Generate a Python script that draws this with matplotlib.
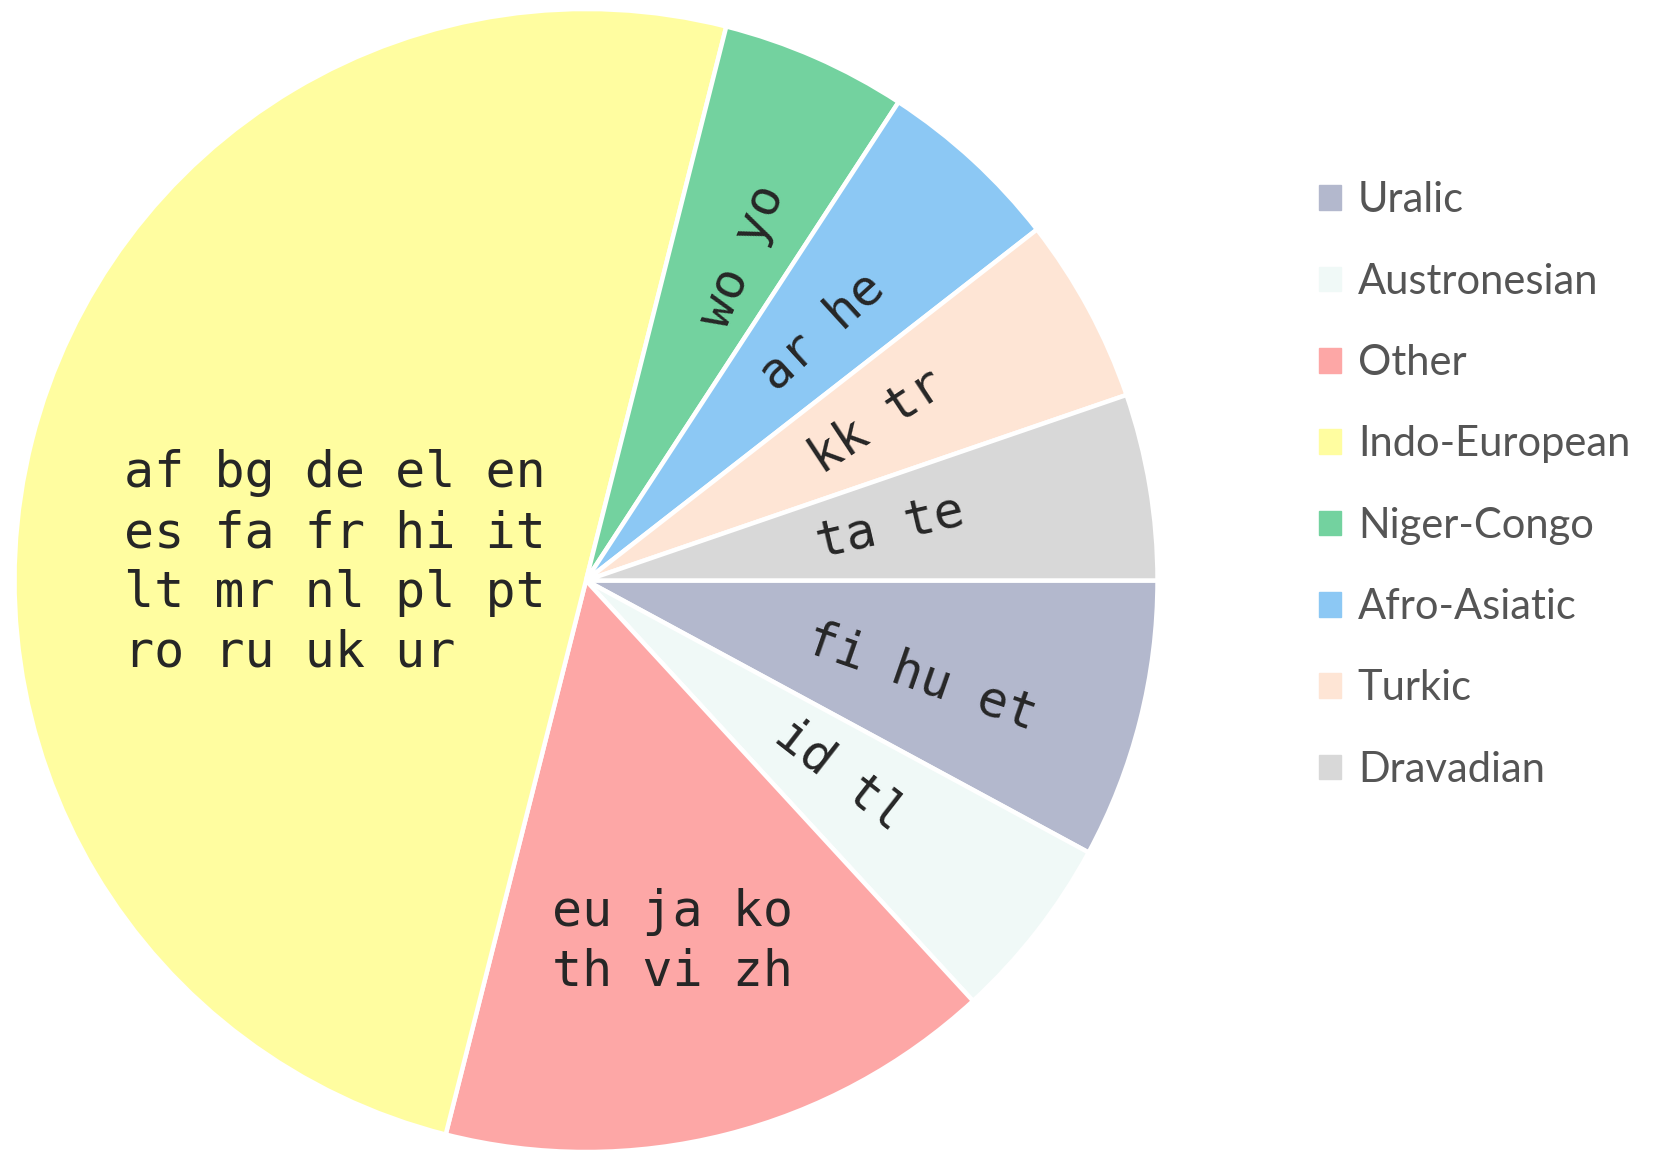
import matplotlib
matplotlib.use("Agg")
import matplotlib.pyplot as plt
import numpy as np

# ---- data ----
families = ["Uralic", "Austronesian", "Other", "Indo-European",
            "Niger-Congo", "Afro-Asiatic", "Turkic", "Dravadian"]
languages = [
    ["fi", "hu", "et"],
    ["id", "tl"],
    ["eu", "ja", "ko", "th", "vi", "zh"],
    ["af", "bg", "de", "el", "en", "es", "fa", "fr", "hi", "it",
     "lt", "mr", "nl", "pl", "pt", "ro", "ru", "uk", "ur"],
    ["wo", "yo"],
    ["ar", "he"],
    ["kk", "tr"],
    ["ta", "te"],
]
counts = [len(l) for l in languages]

# ---- style ----
colors = ["#b3b8cd", "#f0f9f7", "#fda7a6", "#fffda0",
          "#73d29f", "#8cc8f4", "#fee5d5", "#d8d8d8"]
# per label: (angle offset deg, radius fraction, rotate?, rotation offset, words per line)
label_style = [
    (-1.8, 0.61, True, -5, 3),
    (0.6, 0.56, True, 0, 2),
    (-0.7, 0.65, False, 0, 3),
    (10.2, 0.44, False, 0, 5),
    (-2.0, 0.63, True, 0.7, 2),
    (-0.8, 0.60, True, -5, 2),
    (0.2, 0.58, True, 5, 2),
    (0.5, 0.54, True, 3.5, 2),
]

fig = plt.figure(figsize=(16.61, 11.59), dpi=100)
ax = fig.add_axes([14.5 / 1661, 7 / 1159, 1143 / 1661, 1143 / 1159])

wedges, _ = ax.pie(counts, colors=colors, startangle=0, counterclock=False,
                   radius=1.0,
                   wedgeprops=dict(edgecolor="white", linewidth=3.2))
ax.set_xlim(-1, 1)
ax.set_ylim(-1, 1)
ax.set_aspect("equal")
ax.axis("off")

for w, langs, (doff, rfrac, rotate, roff, per_line) in zip(wedges, languages, label_style):
    mid = (w.theta1 + w.theta2) / 2.0
    ang = mid + doff
    x = rfrac * np.cos(np.deg2rad(ang))
    y = rfrac * np.sin(np.deg2rad(ang))
    lines = [" ".join(langs[i:i + per_line]) for i in range(0, len(langs), per_line)]
    txt = "\n".join(lines)
    rot = (mid + roff) if rotate else 0
    ax.text(x, y, txt, ha="center", va="center", rotation=rot,
            rotation_mode="anchor", multialignment="left",
            family="DejaVu Sans Mono", fontsize=36, color="#262626",
            linespacing=1.31)

handles = [plt.Rectangle((0, 0), 1, 1, color=c) for c in colors]
leg = fig.legend(handles, families, loc="center left",
                 bbox_to_anchor=(1319 / 1661, 1 - 485 / 1159),
                 frameon=False, borderpad=0, borderaxespad=0,
                 handlelength=0.53, handleheight=0.53,
                 handletextpad=0.4, labelspacing=1.04,
                 prop=dict(family="Lato", size=30))
for t in leg.get_texts():
    t.set_color("#555555")

fig.savefig("out.png", dpi=100, facecolor="white")
